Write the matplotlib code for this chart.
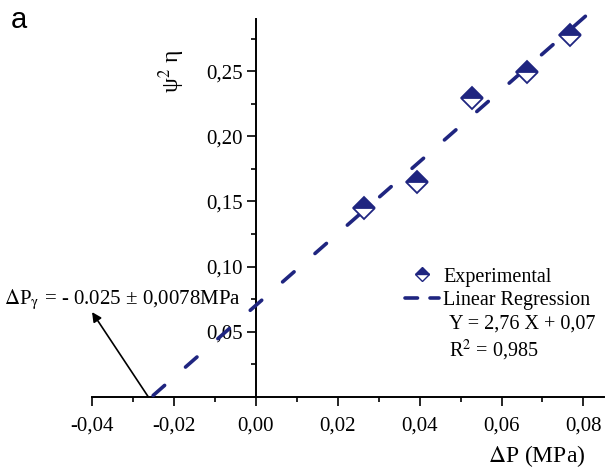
import numpy as np
import matplotlib
matplotlib.use("Agg")
import matplotlib.pyplot as plt
from matplotlib.lines import Line2D
from matplotlib.ticker import FuncFormatter, MultipleLocator

# Measured points: pressure difference (MPa) vs psi^2 * eta
dp = [0.0265, 0.0395, 0.0527, 0.0661, 0.0767]
psi2_eta = [0.145, 0.165, 0.229, 0.249, 0.278]

# Linear regression reported on the figure
slope = 2.76
intercept = 0.07
fit_x = [-0.025, 0.0812]

NAVY = "#1f2580"

plt.rcParams["font.family"] = ["Liberation Serif", "DejaVu Serif"]
plt.rcParams["mathtext.fontset"] = "stix"
plt.rcParams["lines.scale_dashes"] = False


def comma(v, _pos):
    return f"{v:.2f}".replace(".", ",")


fig = plt.figure(figsize=(6.07, 4.69), dpi=100)
ax = fig.add_axes([0.151, 0.154, 0.844, 0.8055])

fx = np.array(fit_x)
ax.plot(fx, slope * fx + intercept, color=NAVY, lw=2.6,
        dashes=(11, 20), dash_capstyle="round", zorder=3, clip_on=False)

ax.plot(dp, psi2_eta, linestyle="none", marker="D", markersize=11.5,
        fillstyle="top", markerfacecolor=NAVY, markerfacecoloralt="white",
        markeredgecolor=NAVY, markeredgewidth=1.3, zorder=4)

ax.set_xlim(-0.04, 0.085)
ax.set_ylim(0, 0.29)

for side in ("top", "right"):
    ax.spines[side].set_visible(False)
ax.spines["left"].set_position(("data", 0))
ax.spines["left"].set_linewidth(1.4)
ax.spines["bottom"].set_linewidth(1.4)

ax.xaxis.set_major_locator(MultipleLocator(0.02))
ax.xaxis.set_minor_locator(MultipleLocator(0.01))
ax.set_yticks([0.05, 0.10, 0.15, 0.20, 0.25])
ax.set_yticks([0.025, 0.075, 0.125, 0.175, 0.225, 0.275], minor=True)
ax.xaxis.set_major_formatter(FuncFormatter(comma))
ax.yaxis.set_major_formatter(FuncFormatter(comma))
ax.tick_params(which="major", direction="out", length=6.5, width=1.2,
               labelsize=15)
ax.tick_params(which="minor", direction="out", length=3.5, width=1.2)
ax.tick_params(axis="y", which="major", pad=2.5)
ax.tick_params(axis="x", which="major", pad=7.5)

ax.text(0.0806, -0.0455, r"$\Delta$P (MPa)", fontsize=17,
        ha="right", va="center")
ax.text(-0.0204, 0.25, r"ψ$^2$ η", fontsize=17, rotation=90,
        ha="center", va="center")
fig.text(0.018, 0.958, "a", fontsize=21, family="Liberation Sans",
         ha="left", va="center")

ax.annotate("", xy=(-0.0399, 0.065), xytext=(-0.0262, 0.0),
            arrowprops=dict(arrowstyle="-|>", color="black", lw=1.2,
                            mutation_scale=14, shrinkA=0, shrinkB=0),
            annotation_clip=False)
ax.text(-0.0615, 0.0745,
        r"$\Delta$P$_{\mathrm{\gamma}}$ = - 0.025 ± 0,0078MPa",
        fontsize=15, ha="left", va="center", clip_on=False)

handles = [
    Line2D([], [], linestyle="none", marker="D", markersize=7,
           fillstyle="top", markerfacecolor=NAVY, markerfacecoloralt="white",
           markeredgecolor=NAVY, markeredgewidth=1.0),
    Line2D([], [], color=NAVY, lw=2.6, dashes=(9, 9),
           dash_capstyle="round"),
]
ax.legend(handles, ["Experimental", "Linear Regression"], loc="upper left",
          bbox_to_anchor=(0.592, 0.369), frameon=False, fontsize=14.5,
          handlelength=1.7, handletextpad=0.2, labelspacing=0.2,
          borderpad=0.0)
ax.text(0.0472, 0.0558, "Y = 2,76 X + 0,07", fontsize=14.5,
        ha="left", va="center")
ax.text(0.0472, 0.0359, r"R$^2$ = 0,985", fontsize=14.5,
        ha="left", va="center")

fig.savefig("out.png", dpi=100)
